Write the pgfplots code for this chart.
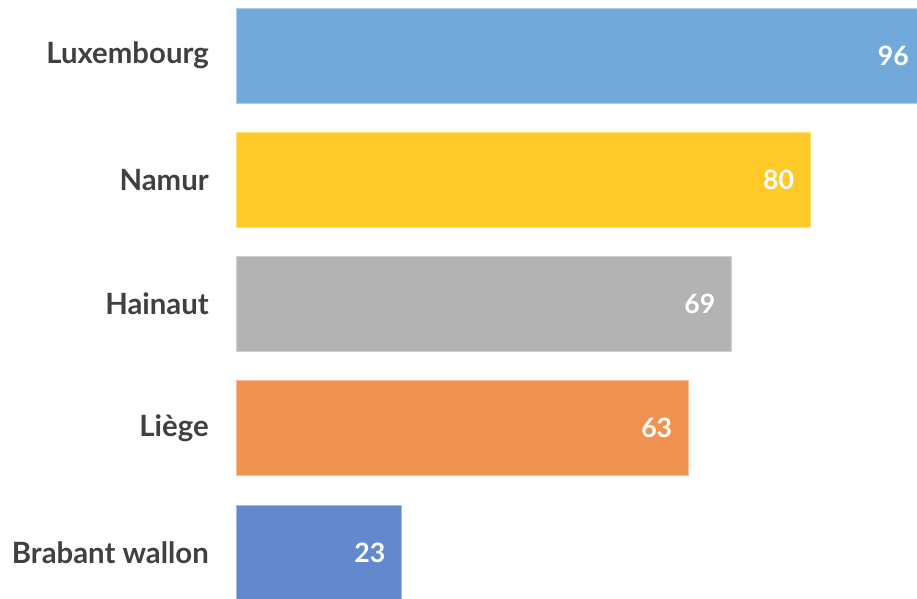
\documentclass[border=0pt]{standalone}
\usepackage{fontspec}
\setmainfont{Lato}
\usepackage{pgfplots}
\pgfplotsset{compat=1.18}
\definecolor{cLux}{HTML}{72A9DB}
\definecolor{cNam}{HTML}{FFC928}
\definecolor{cHai}{HTML}{B3B3B3}
\definecolor{cLie}{HTML}{F09150}
\definecolor{cBra}{HTML}{6288CE}
\definecolor{lbl}{HTML}{404040}
\begin{document}
\begin{tikzpicture}
\begin{axis}[
  xbar, scale only axis,
  width=510pt, height=448.5pt,
  xmin=0, xmax=94.84,
  ymin=-0.366, ymax=4.447,
  bar width=0.765, bar shift=0pt,
  clip=false,
  axis line style={draw=none},
  xtick=\empty,
  ytick={0,1,2,3,4},
  yticklabels={Brabant wallon,Liège,Hainaut,Namur,Luxembourg},
  major tick length=0pt,
  yticklabel style={font=\fontsize{22}{26}\selectfont\bfseries, text=lbl, anchor=east, inner sep=0pt, xshift=-21pt},
  point meta=explicit symbolic,
  nodes near coords,
  nodes near coords style={anchor=east, text=white, font=\fontsize{20}{24}\selectfont\bfseries, inner sep=0pt, xshift=-12pt},
]
\addplot[fill=cLux, draw=cLux!60!white, line width=0.75pt] coordinates {(96,4) [96]};
\addplot[fill=cNam, draw=cNam!60!white, line width=0.75pt] coordinates {(80,3) [80]};
\addplot[fill=cHai, draw=cHai!60!white, line width=0.75pt] coordinates {(69,2) [69]};
\addplot[fill=cLie, draw=cLie!60!white, line width=0.75pt] coordinates {(63,1) [63]};
\addplot[fill=cBra, draw=cBra!60!white, line width=0.75pt] coordinates {(23,0) [23]};
\end{axis}
\pgfresetboundingbox
\path[use as bounding box] ([xshift=-177.75pt]current axis.south west) rectangle (current axis.north east);
\end{tikzpicture}
\end{document}
